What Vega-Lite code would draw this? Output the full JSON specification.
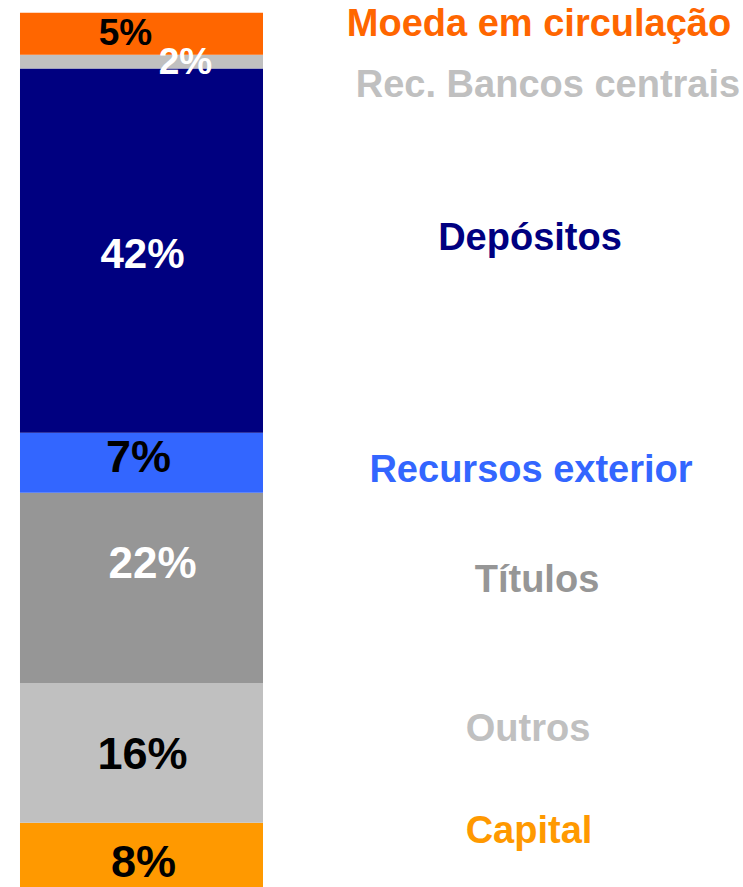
{
  "$schema": "https://vega.github.io/schema/vega-lite/v6.json",
  "width": 743,
  "height": 887,
  "padding": 0,
  "autosize": {"type": "none"},
  "background": "white",
  "config": {
    "view": {"stroke": null},
    "text": {"font": "Liberation Sans", "fontWeight": "bold", "baseline": "alphabetic", "align": "center"}
  },
  "data": {
    "values": [
      {"categoria": "Capital", "valor": 7.5, "ordem": 1, "pct": "8%"},
      {"categoria": "Outros", "valor": 16.3, "ordem": 2, "pct": "16%"},
      {"categoria": "Títulos", "valor": 22.2, "ordem": 3, "pct": "22%"},
      {"categoria": "Recursos exterior", "valor": 7.0, "ordem": 4, "pct": "7%"},
      {"categoria": "Depósitos", "valor": 42.5, "ordem": 5, "pct": "42%"},
      {"categoria": "Rec. Bancos centrais", "valor": 1.6, "ordem": 6, "pct": "2%"},
      {"categoria": "Moeda em circulação", "valor": 4.9, "ordem": 7, "pct": "5%"}
    ]
  },
  "transform": [
    {"stack": "valor", "groupby": [], "sort": [{"field": "ordem", "order": "ascending"}], "as": ["y0", "y1"]}
  ],
  "encoding": {
    "x": {
      "datum": "bar",
      "type": "nominal",
      "scale": {"domain": ["bar", "rotulo"], "paddingInner": 0.3777, "paddingOuter": 0.1402, "align": 0.1826, "round": false},
      "axis": null
    },
    "y": {
      "field": "y1",
      "type": "quantitative",
      "scale": {"domain": [0, 103.5], "nice": false, "zero": true},
      "axis": null
    }
  },
  "layer": [
    {
      "mark": {"type": "bar"},
      "encoding": {
        "y": {"field": "y0", "type": "quantitative"},
        "y2": {"field": "y1"},
        "color": {
          "field": "categoria",
          "type": "nominal",
          "scale": {
            "domain": ["Capital", "Outros", "Títulos", "Recursos exterior", "Depósitos", "Rec. Bancos centrais", "Moeda em circulação"],
            "range": ["#FF9900", "#C0C0C0", "#969696", "#3366FF", "#000080", "#C0C0C0", "#FF6600"]
          },
          "legend": null
        }
      }
    },
    {"transform": [{"filter": "datum.categoria === 'Moeda em circulação'"}], "mark": {"type": "text", "dy": 32, "dx": -16, "fontSize": 37, "color": "black"}, "encoding": {"text": {"field": "pct"}}},
    {"transform": [{"filter": "datum.categoria === 'Rec. Bancos centrais'"}], "mark": {"type": "text", "dy": 19, "dx": 44, "fontSize": 37, "color": "white"}, "encoding": {"text": {"field": "pct"}}},
    {"transform": [{"filter": "datum.categoria === 'Depósitos'"}], "mark": {"type": "text", "dy": 199, "dx": 1, "fontSize": 42, "color": "white"}, "encoding": {"text": {"field": "pct"}}},
    {"transform": [{"filter": "datum.categoria === 'Recursos exterior'"}], "mark": {"type": "text", "dy": 39, "dx": -3, "fontSize": 45, "color": "black"}, "encoding": {"text": {"field": "pct"}}},
    {"transform": [{"filter": "datum.categoria === 'Títulos'"}], "mark": {"type": "text", "dy": 85, "dx": 11, "fontSize": 44, "color": "white"}, "encoding": {"text": {"field": "pct"}}},
    {"transform": [{"filter": "datum.categoria === 'Outros'"}], "mark": {"type": "text", "dy": 86, "dx": 1, "fontSize": 45, "color": "black"}, "encoding": {"text": {"field": "pct"}}},
    {"transform": [{"filter": "datum.categoria === 'Capital'"}], "mark": {"type": "text", "dy": 54, "dx": 2, "fontSize": 45, "color": "black"}, "encoding": {"text": {"field": "pct"}}},
    {"transform": [{"filter": "datum.categoria === 'Moeda em circulação'"}], "mark": {"type": "text", "dy": 23, "dx": 7, "fontSize": 38}, "encoding": {"x": {"datum": "rotulo", "type": "nominal"}, "text": {"field": "categoria"}, "color": {"field": "categoria", "type": "nominal", "legend": null}}},
    {"transform": [{"filter": "datum.categoria === 'Rec. Bancos centrais'"}], "mark": {"type": "text", "dy": 42, "dx": 16, "fontSize": 38}, "encoding": {"x": {"datum": "rotulo", "type": "nominal"}, "text": {"field": "categoria"}, "color": {"field": "categoria", "type": "nominal", "legend": null}}},
    {"transform": [{"filter": "datum.categoria === 'Depósitos'"}], "mark": {"type": "text", "dy": 181, "dx": -2, "fontSize": 38}, "encoding": {"x": {"datum": "rotulo", "type": "nominal"}, "text": {"field": "categoria"}, "color": {"field": "categoria", "type": "nominal", "legend": null}}},
    {"transform": [{"filter": "datum.categoria === 'Recursos exterior'"}], "mark": {"type": "text", "dy": 49, "dx": -1, "fontSize": 38}, "encoding": {"x": {"datum": "rotulo", "type": "nominal"}, "text": {"field": "categoria"}, "color": {"field": "categoria", "type": "nominal", "legend": null}}},
    {"transform": [{"filter": "datum.categoria === 'Títulos'"}], "mark": {"type": "text", "dy": 99, "dx": 5, "fontSize": 38}, "encoding": {"x": {"datum": "rotulo", "type": "nominal"}, "text": {"field": "categoria"}, "color": {"field": "categoria", "type": "nominal", "legend": null}}},
    {"transform": [{"filter": "datum.categoria === 'Outros'"}], "mark": {"type": "text", "dy": 58, "dx": -4, "fontSize": 38}, "encoding": {"x": {"datum": "rotulo", "type": "nominal"}, "text": {"field": "categoria"}, "color": {"field": "categoria", "type": "nominal", "legend": null}}},
    {"transform": [{"filter": "datum.categoria === 'Capital'"}], "mark": {"type": "text", "dy": 20, "dx": -3, "fontSize": 38}, "encoding": {"x": {"datum": "rotulo", "type": "nominal"}, "text": {"field": "categoria"}, "color": {"field": "categoria", "type": "nominal", "legend": null}}}
  ]
}
